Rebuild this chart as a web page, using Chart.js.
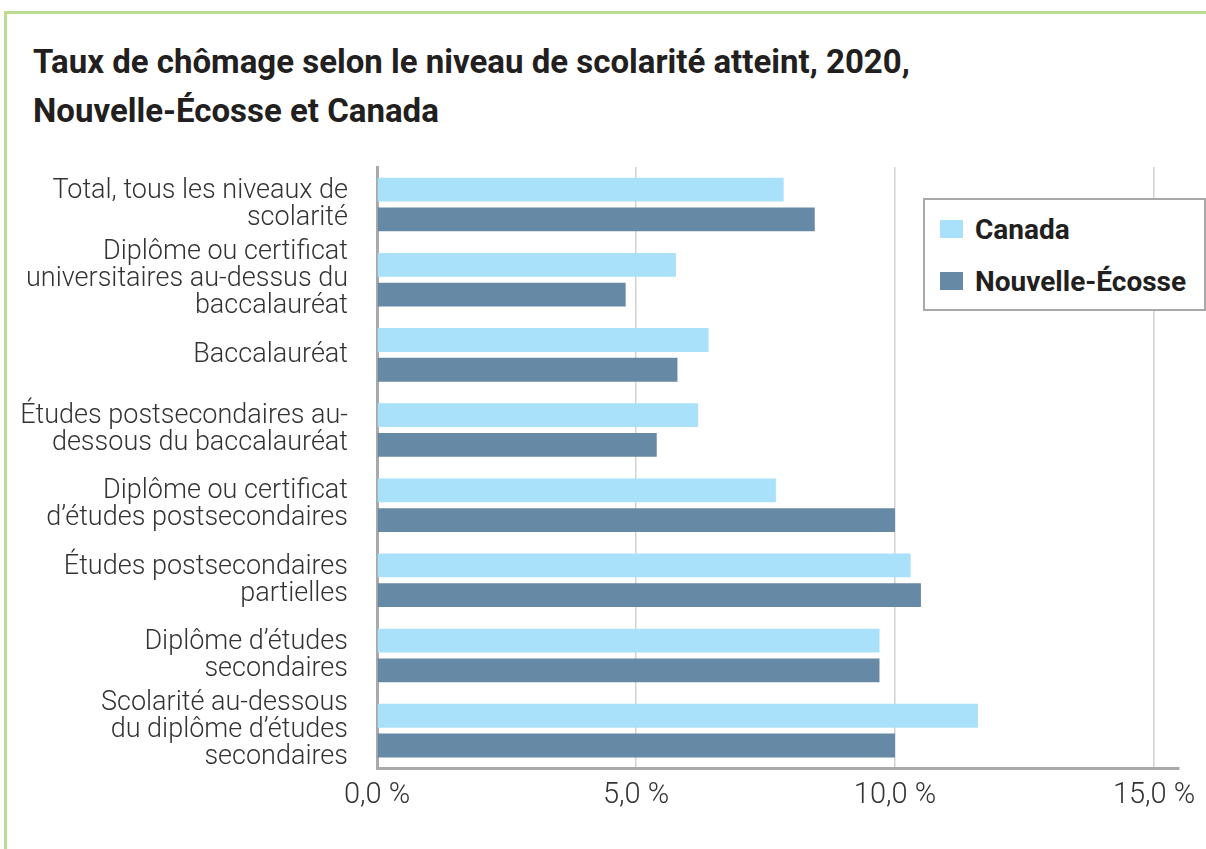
<!DOCTYPE html>
<html>
<head>
<meta charset="utf-8">
<script src="https://cdn.jsdelivr.net/npm/chart.js@4.4.1/dist/chart.umd.min.js"></script>
<style>
    body { margin: 0; background: #fff; overflow: hidden; font-family: Roboto, sans-serif; }
    #frame { position: absolute; left: 4px; top: 11px; width: 1400px; height: 1000px;
             border-left: 3px solid #bcdc92; border-top: 3px solid #bcdc92; }
    #title { position: absolute; left: 33px; top: 37px; margin: 0;
             font: bold 33px/49px Roboto, sans-serif; color: #231f20; white-space: nowrap; }
    #wrap { position: absolute; left: 0; top: 0; width: 1206px; height: 849px; }
    #legend { position: absolute; left: 923px; top: 198px; width: 283px; height: 113px;
              box-sizing: border-box; border: 2px solid #a8a8a8; background: #fff;
              padding-top: 3px; padding-left: 15px; }
    .item { height: 52px; display: flex; align-items: center;
            font: bold 28px Roboto, sans-serif; color: #231f20; }
    .swatch { width: 23px; height: 18px; margin-right: 12px; }
</style>
</head>
<body>
<div id="frame"></div>
<h1 id="title"></h1>
<div id="wrap"><canvas id="chart"></canvas></div>
<div id="legend"></div>
<script>
const titleLines = ["Taux de chômage selon le niveau de scolarité atteint, 2020,",
                    "Nouvelle-Écosse et Canada"];
const categories = [
    ["Total, tous les niveaux de", "scolarité"],
    ["Diplôme ou certificat", "universitaires au-dessus du", "baccalauréat"],
    ["Baccalauréat"],
    ["Études postsecondaires au-", "dessous du baccalauréat"],
    ["Diplôme ou certificat", "d’études postsecondaires"],
    ["Études postsecondaires", "partielles"],
    ["Diplôme d’études", "secondaires"],
    ["Scolarité au-dessous", "du diplôme d’études", "secondaires"]
];
const canada = [7.85, 5.77, 6.4, 6.2, 7.7, 10.3, 9.7, 11.6];
const nouvelleEcosse = [8.45, 4.8, 5.8, 5.4, 10.0, 10.5, 9.7, 10.0];
const xTicks = [0, 5, 10, 15];
const seriesNames = ["Canada", "Nouvelle-Écosse"];
const seriesColors = ["#a9e0fa", "#668aa5"];

document.getElementById("title").innerHTML = titleLines.join("<br>");

const ctx = document.getElementById("chart").getContext("2d");
const chart = new Chart(ctx, {
    type: "bar",
    data: {
        labels: categories,
        datasets: [
            { label: seriesNames[0], data: canada, backgroundColor: seriesColors[0] },
            { label: seriesNames[1], data: nouvelleEcosse, backgroundColor: seriesColors[1] }
        ]
    },
    options: {
        indexAxis: "y",
        responsive: true,
        maintainAspectRatio: false,
        animation: false,
        categoryPercentage: 0.792,
        barPercentage: 0.8,
        layout: { padding: { left: 10, right: 26, top: 167, bottom: 26 } },
        plugins: {
            legend: { display: false },
            tooltip: { enabled: false },
            title: { display: false }
        },
        scales: {
            x: {
                min: 0,
                max: 15.47,
                afterBuildTicks: scale => { scale.ticks = xTicks.map(v => ({ value: v })); },
                grid: { color: "#d2d2d2", lineWidth: 1.5, drawTicks: false },
                border: { color: "#a9a9ab", width: 3 },
                ticks: {
                    padding: 10,
                    color: "#333",
                    font: { family: "Roboto", size: 29, weight: 300 },
                    callback: v => v.toFixed(1).replace(".", ",") + " %"
                }
            },
            y: {
                afterFit: scale => { scale.width = 367; },
                grid: { display: false, drawTicks: false },
                border: { color: "#a9a9ab", width: 3 },
                ticks: {
                    autoSkip: false,
                    padding: 29,
                    color: "#333",
                    font: { family: "Roboto", size: 27, weight: 300, lineHeight: 1.0 }
                }
            }
        }
    }
});

// legend built from the series arrays
const legend = document.getElementById("legend");
seriesNames.forEach((name, i) => {
    const row = document.createElement("div");
    row.className = "item";
    row.innerHTML = '<span class="swatch" style="background:' + seriesColors[i] + '"></span>' + name;
    legend.appendChild(row);
});
</script>
</body>
</html>
